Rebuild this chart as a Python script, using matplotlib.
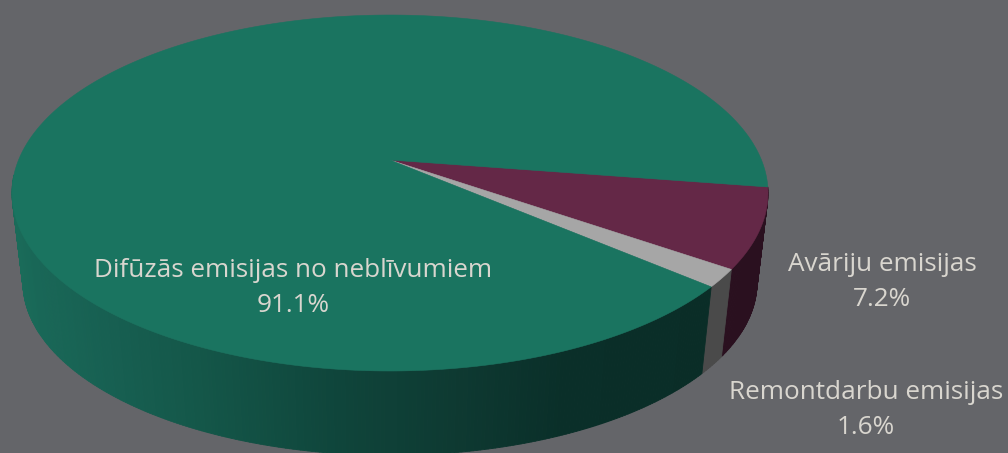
import numpy as np
import matplotlib
matplotlib.use("Agg")
import matplotlib.pyplot as plt
from matplotlib.collections import PolyCollection
from matplotlib.colors import to_rgb
from matplotlib.patches import Polygon

# Shares of emissions, in the clockwise drawing order of the pie
labels = ["Avāriju emisijas", "Remontdarbu emisijas", "Difūzās emisijas no neblīvumiem"]
shares = [7.2, 1.6, 91.1]

top_colors = ["#642847", "#a6a6a6", "#1a7460"]
side_colors = ["#2a101f", "#4a4a4a", None]
text_color = "#d9d6cf"
background = "#646569"

# Shading of the green rim, from its left end to its right end
rim_stops_x = [20, 110, 200, 340, 450, 560, 710]
rim_stops_c = ["#1a6b59", "#176052", "#145749", "#0f453b", "#0e3a32", "#0a2f29", "#0a2d27"]

START_ANGLE = -8.77  # first slice begins just below the right-hand side
TILT = 0.1854        # perspective strength of the tilted disc
CX, TOP_CY, APEX_Y = 390.0, 193.0, 160.0
RX, RISE = 378.0, 142.2
BOTTOM_CY, BOTTOM_SCALE = 282.5, 0.971


def top_rim(deg):
    """Project points of the unit circle onto the tilted upper face."""
    t = np.radians(deg)
    u, v = np.cos(t), np.sin(t)
    w = 1 + TILT * v
    x = CX + RX * np.sqrt(1 - TILT ** 2) * u / w
    y = (APEX_Y - RISE * v) / w
    return x, y


def bottom_rim(deg):
    x, y = top_rim(deg)
    return CX + BOTTOM_SCALE * (x - CX), BOTTOM_CY + BOTTOM_SCALE * (y - TOP_CY)


fig = plt.figure(figsize=(10.08, 4.53), dpi=100, facecolor=background)
ax = fig.add_axes([0, 0, 1, 1])
ax.set_xlim(0, 1008)
ax.set_ylim(453, 0)
ax.axis("off")

# Slice limits in degrees, walking clockwise from the start angle
sweeps = 360 * np.array(shares) / np.sum(shares)
edges = START_ANGLE - np.concatenate([[0], np.cumsum(sweeps)])

# Rim: thin quads, only the part facing the viewer
quads, quad_colors = [], []
rim_rgb = np.array([to_rgb(c) for c in rim_stops_c])
for i in range(len(shares)):
    hi, lo = edges[i], edges[i + 1]
    lo = max(lo, -175.0)
    steps = np.linspace(hi, lo, max(2, int((hi - lo) * 2)))
    for a0, a1 in zip(steps[:-1], steps[1:]):
        x0, y0 = top_rim(a0)
        x1, y1 = top_rim(a1)
        x2, y2 = bottom_rim(a1)
        x3, y3 = bottom_rim(a0)
        quads.append([(x0, y0), (x1, y1), (x2, y2), (x3, y3)])
        if side_colors[i] is None:
            mx = (x2 + x3) / 2
            quad_colors.append([np.interp(mx, rim_stops_x, rim_rgb[:, k]) for k in range(3)])
        else:
            quad_colors.append(to_rgb(side_colors[i]))
rim = PolyCollection(quads, facecolors=quad_colors, edgecolors=quad_colors, linewidths=0.6, zorder=1)
ax.add_collection(rim)

# Upper face: one polygon per slice, meeting at the projected centre
for i, color in enumerate(top_colors):
    arc = np.linspace(edges[i], edges[i + 1], max(3, int(sweeps[i] * 2)))
    xs, ys = top_rim(arc)
    pts = [(CX, APEX_Y)] + list(zip(xs, ys))
    ax.add_patch(Polygon(pts, closed=True, facecolor=color, edgecolor=color, linewidth=0.4, zorder=2))

# Data labels
font = dict(family="Open Sans", fontsize=18.8, color=text_color, ha="center", va="center", linespacing=1.56, zorder=3)
ax.text(882, 282, f"{labels[0]}\n{shares[0]:.1f}%", **font)
ax.text(866, 410, f"{labels[1]}\n{shares[1]:.1f}%", **font)
ax.text(293, 288, f"{labels[2]}\n{shares[2]:.1f}%", **font)

fig.savefig("out.png", dpi=100, facecolor=background)
